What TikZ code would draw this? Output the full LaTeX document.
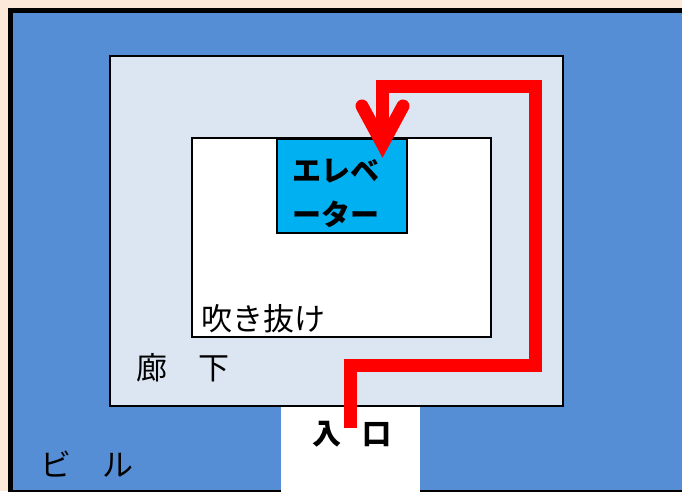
\documentclass[tikz,border=0pt]{standalone}
\usepackage{fontspec}
\newfontfamily\cjk{Noto Sans CJK JP}
\definecolor{peach}{HTML}{FDE9D9}
\definecolor{bldg}{HTML}{558ED5}
\definecolor{corr}{HTML}{DCE6F2}
\definecolor{elev}{HTML}{00B0F0}
\definecolor{route}{HTML}{FF0000}
\tikzset{
  label/.style={inner sep=0pt, font=\cjk\fontsize{31}{31}\selectfont},
  boldlabel/.style={inner sep=0pt, font=\cjk\bfseries\fontsize{29}{44}\selectfont, align=center},
  routeline/.style={draw=route, line width=13pt, line join=miter},
}
\begin{document}
\begin{tikzpicture}[x=1pt,y=-1pt]
\useasboundingbox (0,0) rectangle (682,491);
\fill[peach] (0,0) rectangle (682,491);
\begin{scope}
\clip (0,0) rectangle (682,491);
% building
\draw[fill=bldg, line width=5pt] (10.5,10.5) rectangle (700,492.5);
% entrance
\fill[white] (281,406) rectangle (420,495);
\end{scope}
% corridor
\draw[fill=corr, line width=2pt] (110,56) rectangle (563,406);
% atrium
\draw[fill=white, line width=1.6pt] (192,138) rectangle (491,337);
% elevator
\draw[fill=elev, line width=1.6pt] (277,139) rectangle (407,233);
\node[boldlabel] (elevator) at (336,193) {エレベ\\ーター};
\node[label, anchor=west] (atrium) at (201,319) {吹き抜け};
\node[label, anchor=west] (corridor) at (136,368) {廊　下};
\node[label, anchor=west] (building) at (40,464) {ビ　ル};
\node[boldlabel, anchor=west] (entrance) at (312,434) {入\hspace{21pt}口};
% route
\coordinate (start) at (350,428);
\coordinate (c1) at (350,365);
\coordinate (c2) at (535,365);
\coordinate (c3) at (535,86);
\coordinate (c4) at (382.5,86);
\coordinate (tip) at (382.5,144);
\draw[routeline] (start) -- (c1) -- (c2) -- (c3) -- (c4) -- (tip);
\coordinate (armL) at (362,106);
\coordinate (armR) at (403,106);
\draw[routeline, line cap=round] (armL) -- (tip) -- (armR);
\end{tikzpicture}
\end{document}
